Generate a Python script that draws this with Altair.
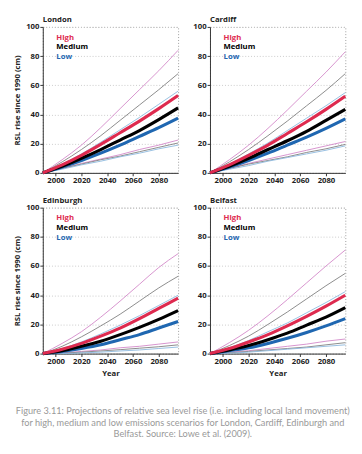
import altair as alt
import pandas as pd

years = [1990, 2005, 2020, 2035, 2050, 2065, 2080, 2095]
cities = ["London", "Cardiff", "Edinburgh", "Belfast"]
thin_names = ["High 95%", "Medium 95%", "Low 95%", "High 5%", "Medium 5%", "Low 5%"]
thick_names = ["Low", "Medium", "High"]

# London
london_high_95 = [0, 9, 19, 31, 44, 57, 70, 84]
london_medium_95 = [0, 7.5, 16, 25.5, 36, 46.5, 57, 68]
london_low_95 = [0, 6, 13, 21, 29.5, 38, 47, 56]
london_high = [0, 5.5, 12, 19.5, 27.5, 35.5, 44, 53]
london_medium = [0, 4.5, 10, 16, 22.5, 29, 36.5, 44.5]
london_low = [0, 4, 8.5, 13.5, 19, 25, 31, 37.5]
london_high_5 = [0, 3, 6.5, 9.5, 12.5, 16, 19, 22.5]
london_medium_5 = [0, 3, 6, 9, 11.5, 14.5, 17.5, 20.5]
london_low_5 = [0, 2.5, 5.5, 8, 11, 13.5, 16.5, 19]

# Cardiff
cardiff_high_95 = [0, 9, 19, 30.5, 43, 56, 69, 83]
cardiff_medium_95 = [0, 7.5, 16, 25.5, 35.5, 46, 56.5, 68]
cardiff_low_95 = [0, 6, 13, 20.5, 29, 37.5, 46, 55]
cardiff_high = [0, 5.5, 12, 19, 27, 35, 43.5, 52.5]
cardiff_medium = [0, 4.5, 10, 16, 22, 28.5, 36, 43.5]
cardiff_low = [0, 4, 8.5, 13.5, 19, 24.5, 30.5, 37]
cardiff_high_5 = [0, 3, 6.5, 9.5, 12.5, 15.5, 18.5, 21.5]
cardiff_medium_5 = [0, 3, 6, 8.5, 11, 14, 16.5, 19.5]
cardiff_low_5 = [0, 2.5, 5, 8, 10.5, 13, 15.5, 18.5]

# Edinburgh
edinburgh_high_95 = [0, 7, 15, 25, 36, 47.5, 59, 68.5]
edinburgh_medium_95 = [0, 5, 11.5, 19, 27, 36, 45, 53]
edinburgh_low_95 = [0, 3.5, 8, 13.5, 19.5, 26, 33, 40]
edinburgh_high = [0, 3, 7, 12, 17.5, 24, 31, 38]
edinburgh_medium = [0, 2, 5, 8.5, 13, 18, 23.5, 29.5]
edinburgh_low = [0, 1.5, 3.5, 6, 9.5, 13, 17.5, 22]
edinburgh_high_5 = [0, 0.5, 1.5, 2.5, 4, 5, 6.5, 8]
edinburgh_medium_5 = [0, 0.3, 1, 1.8, 2.7, 3.7, 4.7, 6]
edinburgh_low_5 = [0, 0, 0.5, 1, 1.8, 2.5, 3.5, 4.5]

# Belfast
belfast_high_95 = [0, 7.5, 16, 26, 37, 48.5, 60, 71]
belfast_medium_95 = [0, 5.5, 12, 20, 28.5, 37.5, 46.5, 55]
belfast_low_95 = [0, 4, 9, 15, 21, 28, 35, 42.5]
belfast_high = [0, 3.5, 8, 13, 19, 25.5, 32.5, 40]
belfast_medium = [0, 2.5, 5.5, 9.5, 14, 19.5, 25, 31.5]
belfast_low = [0, 2, 4, 7, 10.5, 14.5, 19, 24]
belfast_high_5 = [0, 1, 2, 3.5, 5, 6.5, 8.5, 10]
belfast_medium_5 = [0, 0.5, 1.5, 2.5, 3.5, 4.5, 6, 7.5]
belfast_low_5 = [0, 0.3, 1, 2, 3, 4, 5, 6]

city_thin = {
    "London": [london_high_95, london_medium_95, london_low_95, london_high_5, london_medium_5, london_low_5],
    "Cardiff": [cardiff_high_95, cardiff_medium_95, cardiff_low_95, cardiff_high_5, cardiff_medium_5, cardiff_low_5],
    "Edinburgh": [edinburgh_high_95, edinburgh_medium_95, edinburgh_low_95, edinburgh_high_5,
                  edinburgh_medium_5, edinburgh_low_5],
    "Belfast": [belfast_high_95, belfast_medium_95, belfast_low_95, belfast_high_5, belfast_medium_5, belfast_low_5],
}
city_thick = {
    "London": [london_low, london_medium, london_high],
    "Cardiff": [cardiff_low, cardiff_medium, cardiff_high],
    "Edinburgh": [edinburgh_low, edinburgh_medium, edinburgh_high],
    "Belfast": [belfast_low, belfast_medium, belfast_high],
}

rows = []
for city in cities:
    for kind, names, table in [("thin", thin_names, city_thin), ("thick", thick_names, city_thick)]:
        for order, (name, vals) in enumerate(zip(names, table[city])):
            for yr, v in zip(years, vals):
                rows.append({"city": city, "kind": kind, "series": name, "order": order,
                             "year": yr, "rsl": v})
df = pd.DataFrame(rows)

thin_colors = ["#d286c8", "#7d7d7d", "#8ab8de", "#d286c8", "#7d7d7d", "#8ab8de"]
thick_colors = ["#1f67b1", "#000000", "#de2a4f"]

FONT = "Open Sans"


def panel(city, left, bottom):
    base = alt.Chart(df).transform_filter(alt.datum.city == city)
    xaxis = alt.X("year:Q", scale=alt.Scale(domain=[1990, 2095], nice=False, zero=False),
                  axis=alt.Axis(values=[2000, 2020, 2040, 2060, 2080], format="d",
                                title="Year" if bottom else None, grid=False))
    yaxis = alt.Y("rsl:Q", scale=alt.Scale(domain=[0, 100], nice=False),
                  axis=alt.Axis(values=[0, 20, 40, 60, 80, 100],
                                title="RSL rise since 1990 (cm)" if left else None,
                                grid=True, gridDash=[1, 2], gridColor="#c9c9c9"))
    thin = base.transform_filter(alt.datum.kind == "thin").mark_line(
        interpolate="monotone", strokeWidth=0.9
    ).encode(
        x=xaxis, y=yaxis,
        color=alt.Color("series:N", scale=alt.Scale(domain=thin_names, range=thin_colors), legend=None),
        detail="series:N",
    )
    thick = base.transform_filter(alt.datum.kind == "thick").mark_line(
        interpolate="monotone", strokeWidth=3.2
    ).encode(
        x=xaxis, y=yaxis,
        color=alt.Color("series:N", scale=alt.Scale(domain=thick_names, range=thick_colors), legend=None),
        detail="series:N",
    )
    texts = []
    for lab, col, yp in [("High", "#de2a4f", 11), ("Medium", "#000000", 21), ("Low", "#1f67b1", 31)]:
        texts.append(
            alt.Chart(pd.DataFrame({"label": [lab]})).mark_text(
                align="left", baseline="middle", font=FONT, fontWeight="bold", fontSize=8, color=col
            ).encode(x=alt.value(14), y=alt.value(yp), text="label:N")
        )
    return alt.layer(thin, thick, *texts).resolve_scale(color="independent").properties(
        width=140, height=151,
        title=alt.TitleParams(city, anchor="start", frame="group", font=FONT, fontWeight="bold",
                              fontSize=8, offset=-1, color="#222"),
    )


top = alt.hconcat(panel("London", True, False), panel("Cardiff", False, False), spacing=7)
bot = alt.hconcat(panel("Edinburgh", True, True), panel("Belfast", False, True), spacing=7)

chart = alt.vconcat(top, bot, spacing=11).properties(
    title=alt.TitleParams(
        ["Figure 3.11: Projections of relative sea level rise (i.e. including local land movement)",
         "for high, medium and low emissions scenarios for London, Cardiff, Edinburgh and",
         "Belfast. Source: Lowe et al. (2009)."],
        orient="bottom", anchor="middle", font="Lato", fontSize=9.5, fontWeight="normal",
        color="#999999", offset=29, lineHeight=12),
    padding={"left": 5, "top": 0, "right": 2, "bottom": 0},
).configure_axis(
    labelFont=FONT, labelFontWeight="bold", labelFontSize=8, labelColor="#222",
    titleFont=FONT, titleFontWeight="bold", titleFontSize=8, titleColor="#222",
    domainColor="#333", tickColor="#333", tickSize=3, labelPadding=1, titlePadding=2,
).configure_axisX(titlePadding=5).configure_axisY(titlePadding=4).configure_view(
    stroke="#999", strokeDash=[1, 2])

chart.save("out.html", embed_options={"renderer": "svg", "actions": False})
